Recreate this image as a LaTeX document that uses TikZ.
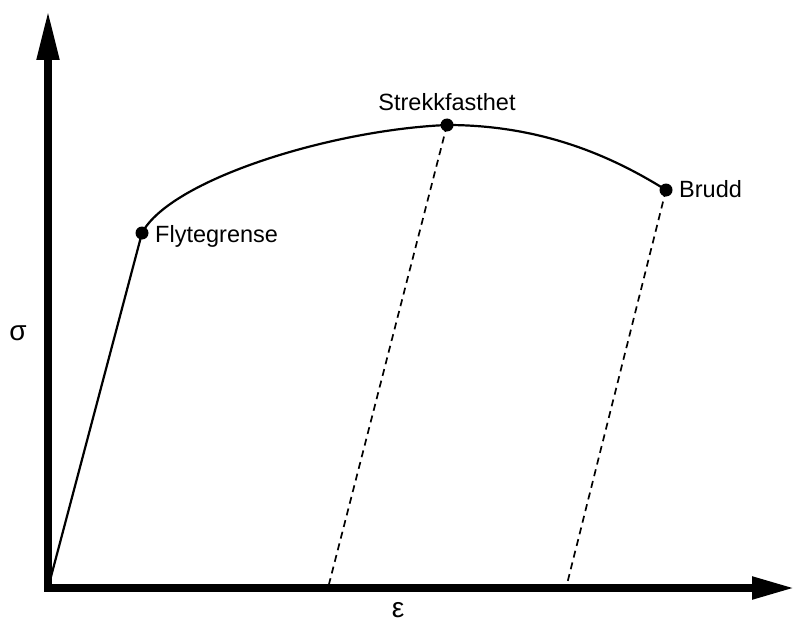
\documentclass[tikz,border=0pt]{standalone}
\usepackage{fontspec}
\setmainfont{Liberation Sans}
\usepackage{tikz}
\usetikzlibrary{arrows.meta}

\begin{document}
\begin{tikzpicture}[x=1pt,y=-1pt]
    \tikzstyle{punkt} = [circle,fill=black,inner sep=0pt,minimum size=13pt]
    \tikzstyle{etikett} = [inner sep=0pt,font=\fontsize{23.5}{28}\selectfont]
    \tikzstyle{akseetikett} = [inner sep=0pt,font=\fontsize{28}{32}\selectfont]
    \tikzstyle{akse} = [line width=8pt,line join=miter,{Triangle[length=50pt,width=21pt]}-{Triangle[length=43pt,width=21pt]}]
    \tikzstyle{stiplet} = [line width=1.7pt,dash pattern=on 7pt off 5pt]
    \useasboundingbox (0,0) rectangle (795,623);

    \coordinate (o) at (48,588);
    \coordinate (ytopp) at (48,10);
    \coordinate (xtopp) at (795,588);
    \coordinate (x1) at (328,588);
    \coordinate (x2) at (566,588);
    \coordinate (flytp) at (142,233);
    \coordinate (strekkp) at (447,125);
    \coordinate (bruddp) at (666,190);

    \draw[akse] (ytopp) -- (o) -- (xtopp);

    \draw[line width=2.2pt] (o) -- (flytp) .. controls (170,180) and (330,130) .. (strekkp)
        .. controls (540,125) and (610,155) .. (bruddp);

    \node[punkt] (flyt) at (flytp) {};
    \node[punkt] (strekk) at (strekkp) {};
    \node[punkt] (brudd) at (bruddp) {};

    \draw[stiplet] (strekk.center) -- (x1);
    \draw[stiplet] (brudd.center) -- (x2);

    \node[etikett,anchor=base west] (flyttekst) at (155,242) {Flytegrense};
    \node[etikett,anchor=base] (strekktekst) at (447,111) {Strekkfasthet};
    \node[etikett,anchor=base west] (bruddtekst) at (679,197) {Brudd};

    \node[akseetikett] (sigma) at (18,333) {σ};
    \node[akseetikett] (epsilon) at (398,610) {ε};
\end{tikzpicture}
\end{document}
